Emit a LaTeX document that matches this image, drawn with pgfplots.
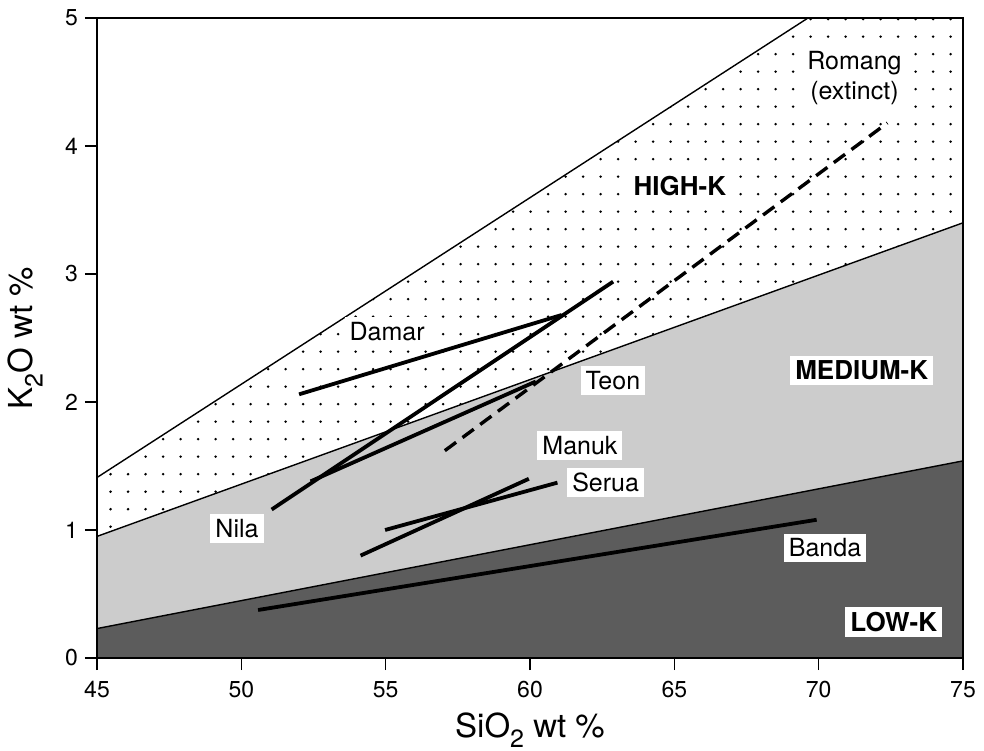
\documentclass[border=0pt]{standalone}
\usepackage{fontspec}
\setmainfont{TeX Gyre Heros}
\usepackage{pgfplots}
\pgfplotsset{compat=1.18}

\definecolor{lowK}{gray}{0.36}
\definecolor{medK}{gray}{0.80}

\newcommand\sub[1]{\raisebox{-0.32em}{\fontsize{12.5}{13}\selectfont#1}}

% axis box: 433pt x 320pt for SiO2 45--75 and K2O 0--5
\def\ux{14.43333pt}
\def\uy{64pt}

\begin{document}
\begin{tikzpicture}
% dotted texture of the high-K field, laid under the axis
\begin{scope}
  \clip (0,{0.95*\uy}) -- (0,{1.41*\uy}) -- ({24.63*\ux},320pt) -- (433pt,320pt) -- (433pt,{3.40*\uy}) -- cycle;
  \foreach \i in {0,...,49} {
    \foreach \j in {0,...,36} {
      \fill ({\i*8.75pt+6.8pt},{\j*8.75pt+4.4pt}) circle (0.7pt);
    }
  }
\end{scope}
\begin{axis}[
  at={(0,0)}, anchor=south west,
  scale only axis, width=433pt, height=320pt,
  xmin=45, xmax=75, ymin=0, ymax=5,
  xtick={45,50,...,75}, ytick={0,1,...,5},
  tick align=outside, xtick pos=bottom, ytick pos=left,
  major tick length=6pt,
  axis on top,
  axis line style={line width=0.8pt},
  tick style={line width=0.6pt, black},
  /pgf/number format/assume math mode=true,
  ticklabel style={font=\fontsize{11.5}{12}\selectfont},
  xticklabel style={yshift=-2pt},
  label style={font=\fontsize{16.5}{18}\selectfont},
  xlabel={SiO\sub{2} wt \%},
  ylabel={K\sub{2}O wt \%},
  xlabel style={at={(axis description cs:0.5,-0.1125)}, anchor=center},
  ylabel style={at={(axis description cs:-0.083,0.5)}, anchor=center},
  clip=true,
]
% classification fields
\addplot[draw=none, fill=lowK] coordinates {(45,0) (45,0.23) (75,1.54) (75,0)} -- cycle;
\addplot[draw=none, fill=medK] coordinates {(45,0.23) (45,0.95) (75,3.40) (75,1.54)} -- cycle;

% field boundaries
\addplot[black, line width=0.7pt] coordinates {(45,0.23) (75,1.54)};
\addplot[black, line width=0.7pt] coordinates {(45,0.95) (75,3.40)};
\addplot[black, line width=0.7pt] coordinates {(45,1.41) (69.63,5)};

% volcano trends
\addplot[black, line width=1.9pt] coordinates {(52.0,2.06) (61.1,2.68)};   % Damar
\addplot[black, line width=1.9pt] coordinates {(51.05,1.16) (62.88,2.94)}; % Nila
\addplot[black, line width=1.9pt] coordinates {(52.4,1.38) (60.2,2.16)};   % Teon
\addplot[black, line width=1.9pt] coordinates {(54.13,0.80) (59.96,1.40)}; % Manuk
\addplot[black, line width=1.9pt] coordinates {(54.98,1.00) (60.95,1.37)}; % Serua
\addplot[black, line width=1.9pt] coordinates {(50.58,0.375) (69.93,1.08)};% Banda
\addplot[black, line width=1.7pt, dash pattern=on 7pt off 4pt] coordinates {(57.05,1.62) (72.38,4.18)}; % Romang

\coordinate (ll) at (rel axis cs:0,0);
\coordinate (ur) at (rel axis cs:1,1);

\tikzset{lab/.style={fill=white, inner sep=2.5pt, font=\fontsize{12.5}{15}\selectfont},
         field/.style={fill=white, inner sep=2.5pt, font=\fontsize{13}{15}\selectfont\bfseries}}
\node[lab] at (axis cs:55.05,2.55) {Damar};
\node[lab] at (axis cs:62.87,2.17) {Teon};
\node[lab] at (axis cs:61.73,1.66) {Manuk};
\node[lab] at (axis cs:62.62,1.37) {Serua};
\node[lab] at (axis cs:49.85,1.01) {Nila};
\node[lab] at (axis cs:70.22,0.86) {Banda};
\node[lab, align=center] at (axis cs:71.24,4.53) {Romang\\(extinct)};
\node[field] at (axis cs:65.19,3.69) {HIGH-K};
\node[field] at (axis cs:71.49,2.245) {MEDIUM-K};
\node[field] at (axis cs:72.6,0.28) {LOW-K};
\end{axis}
\pgfresetboundingbox
\path ([shift={(-48.5pt,-46pt)}]ll) rectangle ([shift={(10.5pt,9pt)}]ur);
\end{tikzpicture}
\end{document}
